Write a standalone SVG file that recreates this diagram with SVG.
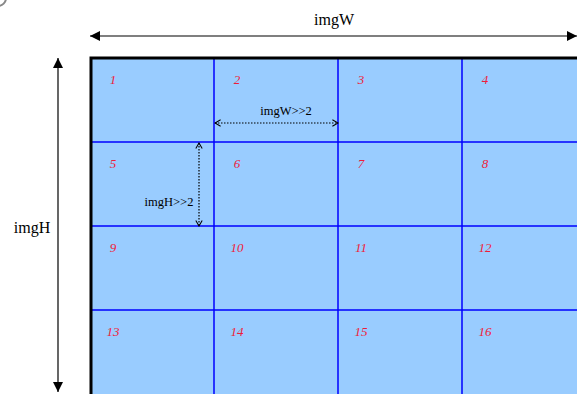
<svg xmlns="http://www.w3.org/2000/svg" width="577" height="394" viewBox="0 0 577 394">
<style>
.num{font-family:"Liberation Serif",serif;font-style:italic;font-size:13px;fill:#ee1c3a;text-anchor:middle}
.lbl{font-family:"Liberation Serif",serif;font-size:16px;fill:#000;text-anchor:middle}
.sm{font-family:"Liberation Serif",serif;font-size:12.5px;fill:#000;text-anchor:middle}
.grid{stroke:#0000ff;stroke-width:1.5;fill:none}
.dim{stroke:#000;stroke-width:1.2;fill:none}
.dot{stroke:#000;stroke-width:1.2;stroke-dasharray:1.5 1.5;fill:none}
</style>
<defs>
<marker id="ah" viewBox="0 0 10 10" refX="10" refY="5" markerWidth="10" markerHeight="10" markerUnits="userSpaceOnUse" orient="auto-start-reverse">
<path d="M0,0 L10,5 L0,10 z" fill="#000"/>
</marker>
<marker id="ch" viewBox="0 0 10 10" refX="9" refY="5" markerWidth="8" markerHeight="8" markerUnits="userSpaceOnUse" orient="auto-start-reverse">
<path d="M2,1 L9,5 L2,9" fill="none" stroke="#000" stroke-width="1.3"/>
</marker>
</defs>
<circle cx="-2" cy="-2" r="8" fill="none" stroke="#888" stroke-width="2"/>
<g id="grid">
<rect x="91" y="58" width="500" height="340" fill="#99ccff"/>
<path class="grid" d="M214,58V394M338,58V394M462,58V394M91,142H577M91,226H577M91,310H577"/>
<path d="M91,396V58H580" stroke="#000" stroke-width="3" fill="none"/>
</g>
<g id="cells">
<text class="num" x="113" y="84">1</text><text class="num" x="237" y="84">2</text><text class="num" x="361" y="84">3</text><text class="num" x="485" y="84">4</text>
<text class="num" x="113" y="168">5</text><text class="num" x="237" y="168">6</text><text class="num" x="361" y="168">7</text><text class="num" x="485" y="168">8</text>
<text class="num" x="113" y="252">9</text><text class="num" x="237" y="252">10</text><text class="num" x="361" y="252">11</text><text class="num" x="485" y="252">12</text>
<text class="num" x="113" y="336">13</text><text class="num" x="237" y="336">14</text><text class="num" x="361" y="336">15</text><text class="num" x="485" y="336">16</text>
</g>
<g id="connectors">
<line class="dim" x1="90" y1="36" x2="577" y2="36" marker-start="url(#ah)" marker-end="url(#ah)"/>
<line class="dim" x1="58" y1="58" x2="58" y2="392" marker-start="url(#ah)" marker-end="url(#ah)"/>
<line class="dot" x1="215" y1="123" x2="338" y2="123" marker-start="url(#ch)" marker-end="url(#ch)"/>
<line class="dot" x1="199" y1="143" x2="199" y2="226" marker-start="url(#ch)" marker-end="url(#ch)"/>
</g>
<g id="labels">
<text class="lbl" x="334" y="25">imgW</text>
<text class="lbl" x="32" y="233">imgH</text>
<text class="sm" x="286" y="115">imgW&gt;&gt;2</text>
<text class="sm" x="169" y="206">imgH&gt;&gt;2</text>
</g>
</svg>
